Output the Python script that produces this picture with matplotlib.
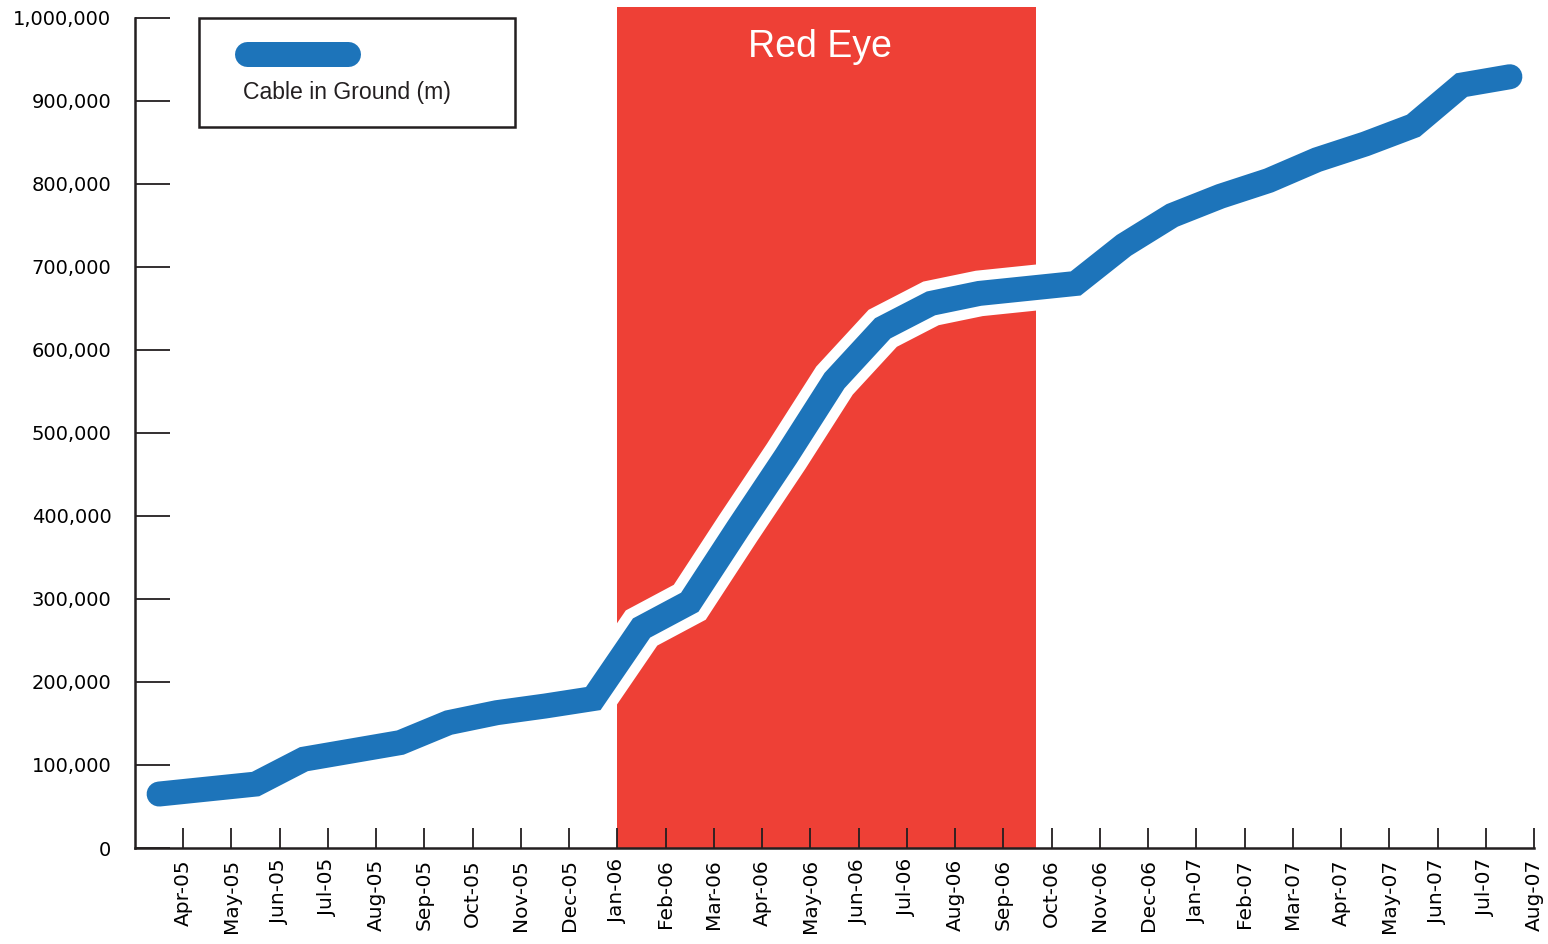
import numpy as np
import matplotlib
matplotlib.use("Agg")
import matplotlib.pyplot as plt
import matplotlib.patheffects as pe
from matplotlib.lines import Line2D
from matplotlib.patches import Rectangle
from matplotlib.ticker import FuncFormatter

# ---- data -------------------------------------------------------------
month_labels = ["Apr-05", "May-05", "Jun-05", "Jul-05", "Aug-05", "Sep-05",
                "Oct-05", "Nov-05", "Dec-05", "Jan-06", "Feb-06", "Mar-06",
                "Apr-06", "May-06", "Jun-06", "Jul-06", "Aug-06", "Sep-06",
                "Oct-06", "Nov-06", "Dec-06", "Jan-07", "Feb-07", "Mar-07",
                "Apr-07", "May-07", "Jun-07", "Jul-07", "Aug-07"]

# cable in ground (m), one reading per month (plotted mid-month, starting mid Mar-05)
cable_m = [65000, 71000, 77000, 107000, 117000, 127000, 151000, 163000,
           171000, 180000, 265000, 296000, 385000, 472000, 563000, 626000,
           656000, 668000, 674000, 680000, 726000, 762000, 785000, 804000,
           829000, 848000, 870000, 919000, 929000]

red_eye_start = 9.0    # Jan-06
red_eye_end = 17.68    # late Sep-06

BLUE = "#1D74BA"
RED = "#EE4036"
DARK = "#231F20"

W, H = 1548, 944
fig = plt.figure(figsize=(W / 100, H / 100), dpi=100)
ax = fig.add_axes([135 / W, (H - 848) / H, (1534 - 135) / W, (848 - 7) / H])

pos = np.arange(len(cable_m)) - 0.5

ax.axvspan(red_eye_start, red_eye_end, color=RED, lw=0, zorder=1)
ax.text(13.2, 965000, "Red Eye", color="white",
        fontsize=27, family="Liberation Sans", ha="center", va="center", zorder=2)

ax.plot(pos, cable_m, color=BLUE, lw=18, solid_capstyle="round",
        solid_joinstyle="miter", zorder=3,
        path_effects=[pe.Stroke(linewidth=33, foreground="white"), pe.Normal()])

ax.set_xlim(-1, 28)
ax.set_ylim(0, 1013000)

for s in ("top", "right"):
    ax.spines[s].set_visible(False)
for s in ("left", "bottom"):
    ax.spines[s].set_linewidth(1.8)
    ax.spines[s].set_color(DARK)
    ax.spines[s].set_zorder(4)
ax.spines["left"].set_bounds(0, 1000000)

ax.set_yticks(np.arange(0, 1000001, 100000))
ax.yaxis.set_major_formatter(FuncFormatter(lambda v, p: f"{int(v):,}"))
ax.tick_params(axis="y", direction="in", length=25, width=1.3, color=DARK,
               pad=17, labelsize=14, labelcolor="black")

ax.set_xticks(np.arange(len(month_labels)))
ax.set_xticklabels(month_labels, rotation=90)
ax.tick_params(axis="x", direction="in", length=14.5, width=1.3, color=DARK,
               pad=8, labelsize=14.5, labelcolor="black")

# ---- legend box (handle above label) -----------------------------------
def fx(x):
    return x / W

def fy(y):
    return 1 - y / H

fig.patches.append(Rectangle((fx(199), fy(127)), fx(515) - fx(199), fy(18) - fy(127),
                             transform=fig.transFigure, fill=False,
                             edgecolor=DARK, lw=1.8, zorder=5))
fig.lines.append(Line2D([fx(247), fx(348)], [fy(54), fy(54)], transform=fig.transFigure,
                        color=BLUE, lw=18, solid_capstyle="round", zorder=5))
fig.text(fx(243), fy(93), "Cable in Ground (m)", fontsize=16.6, family="Liberation Sans",
         color=DARK, ha="left", va="center")

fig.savefig("out.png", dpi=100)
